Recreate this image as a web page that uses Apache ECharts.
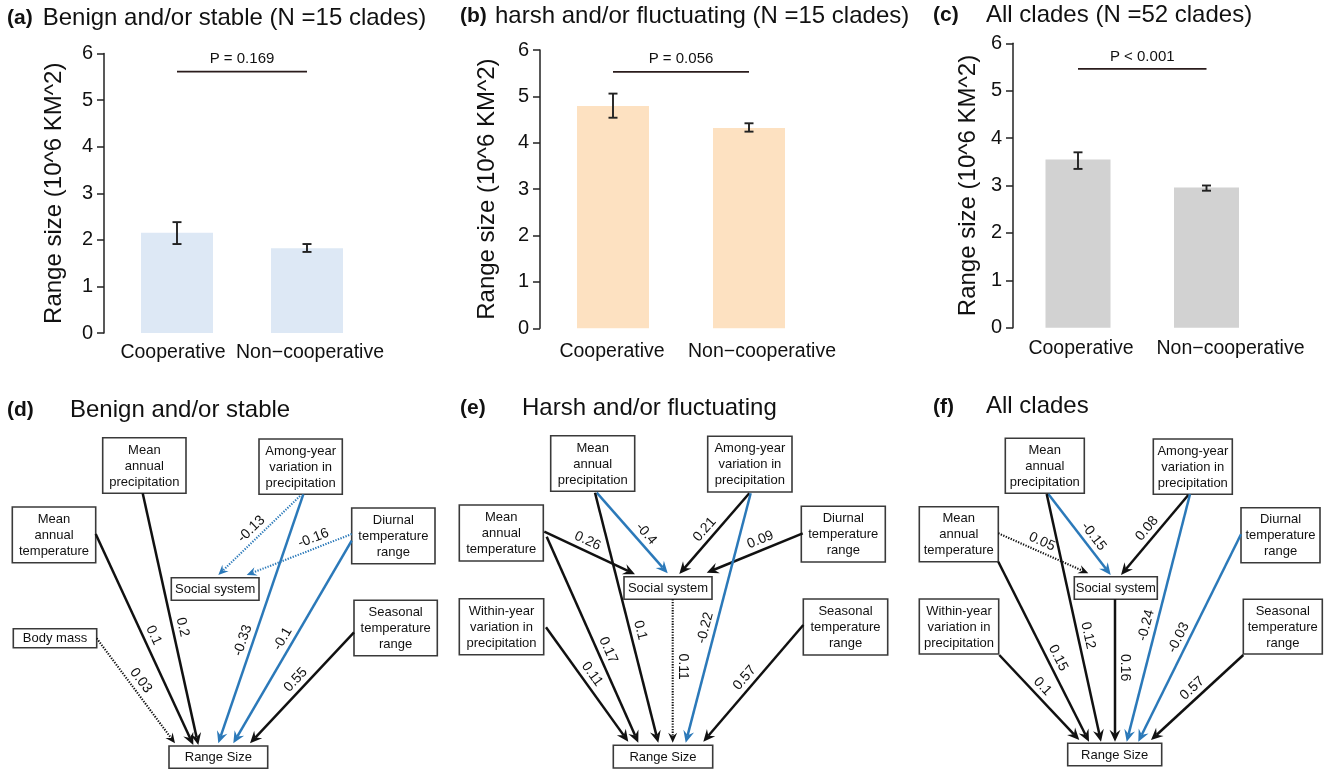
<!DOCTYPE html>
<html>
<head>
<meta charset="utf-8">
<script src="https://cdn.jsdelivr.net/npm/echarts@6/dist/echarts.min.js"></script>
<style>
  html, body { margin: 0; padding: 0; background: #fff; }
  #chart { width: 1326px; height: 771px; }
</style>
</head>
<body>
<div id="chart"></div>
<script>
// ---------- data: bar panels (a)-(c) ----------
const groups = ['Cooperative', 'Non−cooperative']
const yTickValues = [0, 1, 2, 3, 4, 5, 6]

const benignMean = [2.15, 1.82]
const benignLow = [1.91, 1.74]
const benignHigh = [2.38, 1.91]

const harshMean = [4.79, 4.32]
const harshLow = [4.54, 4.24]
const harshHigh = [5.06, 4.42]

const allMean = [3.55, 2.96]
const allLow = [3.35, 2.89]
const allHigh = [3.70, 3.00]

const pLabels = ['P = 0.169', 'P = 0.056', 'P < 0.001']

// ---------- data: path diagrams (d)-(f) ----------
const nodeNames = {
  MAT: 'Mean\nannual\ntemperature',
  MAP: 'Mean\nannual\nprecipitation',
  AYV: 'Among-year\nvariation in\nprecipitation',
  WYV: 'Within-year\nvariation in\nprecipitation',
  DTR: 'Diurnal\ntemperature\nrange',
  STR: 'Seasonal\ntemperature\nrange',
  BM: 'Body mass',
  SOC: 'Social system',
  RS: 'Range Size'
}

// [from, to, path coefficient, significant]
const benignPaths = [
  ['MAT', 'RS', 0.1, true],
  ['MAP', 'RS', 0.2, true],
  ['BM', 'RS', 0.03, false],
  ['AYV', 'SOC', -0.13, false],
  ['DTR', 'SOC', -0.16, false],
  ['AYV', 'RS', -0.33, true],
  ['DTR', 'RS', -0.1, true],
  ['STR', 'RS', 0.55, true]
]
const harshPaths = [
  ['MAT', 'SOC', 0.26, true],
  ['MAP', 'SOC', -0.4, true],
  ['AYV', 'SOC', 0.21, true],
  ['DTR', 'SOC', 0.09, true],
  ['MAT', 'RS', 0.17, true],
  ['MAP', 'RS', 0.1, true],
  ['WYV', 'RS', 0.11, true],
  ['SOC', 'RS', 0.11, false],
  ['AYV', 'RS', -0.22, true],
  ['STR', 'RS', 0.57, true]
]
const allPaths = [
  ['MAT', 'SOC', 0.05, false],
  ['MAP', 'SOC', -0.15, true],
  ['AYV', 'SOC', 0.08, true],
  ['MAT', 'RS', 0.15, true],
  ['MAP', 'RS', 0.12, true],
  ['WYV', 'RS', 0.1, true],
  ['SOC', 'RS', 0.16, true],
  ['AYV', 'RS', -0.24, true],
  ['DTR', 'RS', -0.03, true],
  ['STR', 'RS', 0.57, true]
]

// ---------- layout ----------
const FONT = 'Liberation Sans, Arial, Helvetica, sans-serif'
const BLUE = '#2b79b9'
const INK = '#111'

const barPanels = [
  { mean: benignMean, low: benignLow, high: benignHigh, color: '#dde8f5',
    left: 112, top: 53.5, width: 260, height: 279.5, offset: 8, barWidth: 72,
    nameGap: 38, labelMargin: 10, labelShift: [-8, 6], pLevel: 5.61 },
  { mean: harshMean, low: harshLow, high: harshHigh, color: '#fde1c1',
    left: 545, top: 50, width: 272, height: 278.3, offset: 5, barWidth: 72,
    nameGap: 41, labelMargin: 13, labelShift: [-2, 26], pLevel: 5.53 },
  { mean: allMean, low: allLow, high: allHigh, color: '#d2d2d2',
    left: 1013.75, top: 43.3, width: 257, height: 284.4, offset: 0.75, barWidth: 65,
    nameGap: 33, labelMargin: 11, labelShift: [6, 48], pLevel: 5.46 }
]

// boxes: [x0, y0, x1, y1]; edges: [x1, y1, x2, y2, label position along edge]
const diagramLayout = [
  {
    left: 0, top: 390, width: 450, height: 381, paths: benignPaths,
    boxes: {
      MAP: [102.7, 47.7, 186, 103.3], AYV: [259, 49, 342.3, 104.3],
      MAT: [12.3, 117, 95.7, 172.7], DTR: [351.7, 118, 435, 173.7],
      SOC: [171.3, 187.7, 259, 210.3], BM: [13.3, 238.7, 96.7, 257.7],
      STR: [354, 210.3, 437.3, 265.7], RS: [169, 356, 267.7, 378.3]
    },
    edges: [
      [95.7, 144, 193.3, 355, 0.5], [142.7, 103.3, 198.3, 355, 0.54],
      [96.7, 248.3, 175, 353.3, 0.46], [300, 106, 218.3, 185, 0.51],
      [351.7, 144, 246.7, 185, 0.33], [303.3, 104.3, 218.3, 353.3, 0.6],
      [351.7, 150.7, 233.3, 353.3, 0.51], [354, 242.3, 250, 353.3, 0.49]
    ]
  },
  {
    left: 440, top: 390, width: 450, height: 381, paths: harshPaths,
    boxes: {
      MAP: [110.7, 45.7, 194.7, 101.3], AYV: [267.7, 46.3, 352, 102],
      MAT: [19.3, 115, 103.3, 171], DTR: [361.3, 116.3, 445.3, 172],
      SOC: [184, 186.7, 272, 209.3], WYV: [19.3, 208.7, 103.7, 264.7],
      STR: [363.3, 209, 447.7, 265], RS: [173.3, 355.3, 272.7, 378]
    },
    edges: [
      [104.3, 141.7, 195, 184.3, 0.43], [156.7, 102.7, 227.7, 183.3, 0.59],
      [309.3, 103.3, 239.3, 184, 0.53], [362.7, 143.3, 266.7, 182.7, 0.4],
      [106.7, 146.7, 198.3, 352.7, 0.57], [155, 102.7, 218.3, 352.7, 0.56],
      [106, 237.3, 188.3, 351.7, 0.46], [232.7, 209.3, 232.7, 352.7, 0.47],
      [310.7, 103.3, 245.7, 352.7, 0.55], [363.3, 235, 263.3, 351.7, 0.51]
    ]
  },
  {
    left: 890, top: 390, width: 436, height: 381, paths: allPaths,
    boxes: {
      MAP: [115.3, 48.3, 194.3, 103.3], AYV: [263.3, 49, 342.3, 104.3],
      MAT: [29.3, 116.7, 108.3, 171.7], DTR: [351, 117.7, 430, 172.7],
      SOC: [184.3, 186.7, 267.3, 209.3], WYV: [29.3, 209, 108.7, 264],
      STR: [353.3, 209.3, 432.3, 264], RS: [177.7, 353.3, 271.7, 375.7]
    },
    edges: [
      [108.3, 143.3, 198.3, 183.3, 0.44], [158.3, 104, 220.7, 185, 0.6],
      [298.3, 105, 231, 185, 0.5], [108.3, 171.7, 199, 351.7, 0.56],
      [156.7, 104, 211, 351.7, 0.58], [109.3, 265, 189.3, 350, 0.45],
      [225, 209.3, 225, 351.7, 0.48], [300, 104.3, 236.7, 351.7, 0.54],
      [351, 144.3, 248.3, 351.7, 0.52], [353.3, 265, 261, 350, 0.48]
    ]
  }
]

const titles = [
  ['(a)', 7, 'Benign and/or stable (N =15 clades)', 42.7, 20],
  ['(b)', 460, 'harsh and/or fluctuating (N =15 clades)', 495, 18],
  ['(c)', 933, 'All clades (N =52 clades)', 986, 17],
  ['(d)', 7, 'Benign and/or stable', 70, 411.7],
  ['(e)', 460, 'Harsh and/or fluctuating', 522, 410],
  ['(f)', 933, 'All clades', 986, 408.3]
]

// ---------- renderers ----------
function errorBarRenderer(params, api) {
  const lo = api.coord([api.value(0), api.value(1)])
  const hi = api.coord([api.value(0), api.value(2)])
  const cap = 4.5
  const style = { stroke: '#222', lineWidth: 1.9 }
  return {
    type: 'group',
    children: [
      { type: 'line', shape: { x1: lo[0], y1: lo[1], x2: hi[0], y2: hi[1] }, style },
      { type: 'line', shape: { x1: lo[0] - cap, y1: lo[1], x2: lo[0] + cap, y2: lo[1] }, style },
      { type: 'line', shape: { x1: hi[0] - cap, y1: hi[1], x2: hi[0] + cap, y2: hi[1] }, style }
    ]
  }
}

function pBracketRenderer(label) {
  return function(params, api) {
    const a = api.coord([0, api.value(0)])
    const b = api.coord([1, api.value(0)])
    return {
      type: 'group',
      children: [
        { type: 'line', shape: { x1: a[0], y1: a[1], x2: b[0], y2: b[1] },
          style: { stroke: '#2a1c1c', lineWidth: 1.8 } },
        { type: 'text', x: (a[0] + b[0]) / 2, y: a[1] - 12.5,
          style: { text: label, align: 'center', verticalAlign: 'middle',
            font: '15px ' + FONT, fill: INK } }
      ]
    }
  }
}

function boxRenderer(keys) {
  return function(params, api) {
    const a = api.coord([api.value(0), api.value(1)])
    const b = api.coord([api.value(2), api.value(3)])
    return {
      type: 'group',
      children: [
        { type: 'rect', shape: { x: a[0], y: a[1], width: b[0] - a[0], height: b[1] - a[1] },
          style: { fill: '#fff', stroke: '#3a3a3a', lineWidth: 1.6 } },
        { type: 'text', x: (a[0] + b[0]) / 2, y: (a[1] + b[1]) / 2 + 0.5,
          style: { text: nodeNames[keys[params.dataIndex]], align: 'center', verticalAlign: 'middle',
            font: '13px ' + FONT, lineHeight: 16, fill: INK } }
      ]
    }
  }
}

function edgeRenderer(params, api) {
  const p1 = api.coord([api.value(0), api.value(1)])
  const p2 = api.coord([api.value(2), api.value(3)])
  const t = api.value(4)
  const coef = api.value(5)
  const sig = api.value(6) === 1
  const color = coef < 0 ? BLUE : INK
  const dx = p2[0] - p1[0]
  const dy = p2[1] - p1[1]
  const len = Math.sqrt(dx * dx + dy * dy)
  const ux = dx / len
  const uy = dy / len
  const head = sig ? 12 : 10
  const half = sig ? 5.5 : 4.5
  const bx = p2[0] - ux * head
  const by = p2[1] - uy * head
  const nx0 = -uy
  const ny0 = ux
  const notchX = p2[0] - ux * head * 0.65
  const notchY = p2[1] - uy * head * 0.65
  // label reads left to right, sitting on the upper side of the edge
  let rx = ux
  let ry = uy
  if (dx < 0) { rx = -ux; ry = -uy }
  const nx = ry
  const ny = -rx
  const gap = 10
  return {
    type: 'group',
    children: [
      { type: 'line', shape: { x1: p1[0], y1: p1[1], x2: notchX, y2: notchY },
        style: { stroke: color, lineWidth: sig ? 2.5 : 2.1, lineDash: sig ? null : [1.3, 1.4] } },
      { type: 'polygon',
        shape: { points: [[p2[0], p2[1]], [bx + nx0 * half, by + ny0 * half], [notchX, notchY], [bx - nx0 * half, by - ny0 * half]] },
        style: { fill: color } },
      { type: 'text', x: p1[0] + dx * t + nx * gap, y: p1[1] + dy * t + ny * gap,
        rotation: -Math.atan2(ry, rx),
        style: { text: String(coef), align: 'center', verticalAlign: 'middle',
          font: '14px ' + FONT, fill: INK } }
    ]
  }
}

// ---------- option ----------
const grid = []
const xAxis = []
const yAxis = []
const series = []

barPanels.forEach((p, i) => {
  grid.push({ left: p.left, top: p.top, width: p.width, height: p.height })
  xAxis.push({
    type: 'category', gridIndex: i, data: groups,
    axisLine: { show: false }, axisTick: { show: false }, splitLine: { show: false },
    axisLabel: {
      interval: 0, hideOverlap: false,
      margin: p.labelMargin, fontSize: 19.5, fontFamily: FONT, color: INK,
      formatter: (v, idx) => (idx === 0 ? '{c|' : '{n|') + v + '}',
      rich: {
        c: { fontSize: 19.5, fontFamily: FONT, color: INK,
          padding: p.labelShift[0] < 0 ? [0, -p.labelShift[0], 0, 0] : [0, 0, 0, p.labelShift[0]] },
        n: { fontSize: 19.5, fontFamily: FONT, color: INK,
          padding: p.labelShift[1] < 0 ? [0, -p.labelShift[1], 0, 0] : [0, 0, 0, p.labelShift[1]] }
      }
    }
  })
  yAxis.push({
    type: 'value', gridIndex: i,
    min: yTickValues[0], max: yTickValues[yTickValues.length - 1], interval: yTickValues[1] - yTickValues[0],
    offset: p.offset,
    name: 'Range size (10^6 KM^2)', nameLocation: 'middle', nameGap: p.nameGap, nameRotate: 90,
    nameTextStyle: { fontSize: 24, fontFamily: FONT, color: INK },
    axisLine: { show: true, lineStyle: { color: '#222', width: 1.5 } },
    axisTick: { show: true, length: 7, lineStyle: { color: '#222', width: 1.5 } },
    axisLabel: { fontSize: 20, fontFamily: FONT, color: INK, margin: 11 },
    splitLine: { show: false }
  })
  series.push({
    type: 'bar', xAxisIndex: i, yAxisIndex: i, data: p.mean,
    barWidth: p.barWidth, itemStyle: { color: p.color }, silent: true
  })
  series.push({
    type: 'custom', xAxisIndex: i, yAxisIndex: i, silent: true, z: 5,
    data: groups.map((g, k) => [k, p.low[k], p.high[k]]),
    renderItem: errorBarRenderer
  })
  series.push({
    type: 'custom', xAxisIndex: i, yAxisIndex: i, silent: true, z: 5,
    data: [[p.pLevel]],
    renderItem: pBracketRenderer(pLabels[i])
  })
})

diagramLayout.forEach((d, j) => {
  const gi = barPanels.length + j
  grid.push({ left: d.left, top: d.top, width: d.width, height: d.height })
  xAxis.push({ type: 'value', gridIndex: gi, min: 0, max: d.width, show: false })
  yAxis.push({ type: 'value', gridIndex: gi, min: 0, max: d.height, inverse: true, show: false })
  const keys = Object.keys(d.boxes)
  series.push({
    type: 'custom', xAxisIndex: gi, yAxisIndex: gi, silent: true, z: 2,
    data: keys.map(k => d.boxes[k]),
    renderItem: boxRenderer(keys)
  })
  series.push({
    type: 'custom', xAxisIndex: gi, yAxisIndex: gi, silent: true, z: 3,
    data: d.paths.map((path, k) => d.edges[k].concat([path[2], path[3] ? 1 : 0])),
    renderItem: edgeRenderer
  })
})

const title = []
titles.forEach(t => {
  title.push({ text: t[0], left: t[1], top: t[4] - 12, padding: 0,
    textStyle: { fontSize: 21, fontWeight: 'bold', fontFamily: FONT, color: INK } })
  title.push({ text: t[2], left: t[3], top: t[4] - 13.5, padding: 0,
    textStyle: { fontSize: 24, fontWeight: 'normal', fontFamily: FONT, color: INK } })
})

const chart = echarts.init(document.getElementById('chart'), null, { renderer: 'canvas' })
chart.setOption({
  backgroundColor: '#fff',
  animation: false,
  title,
  grid,
  xAxis,
  yAxis,
  series
})
</script>
</body>
</html>
